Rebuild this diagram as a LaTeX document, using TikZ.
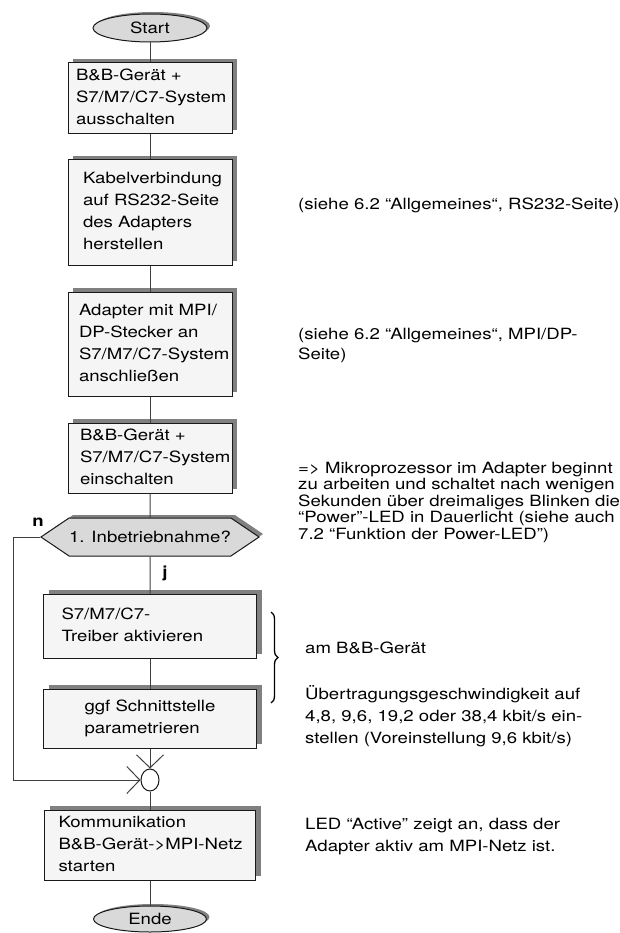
\documentclass[tikz,border=0pt]{standalone}
\usepackage{fontspec}
\setmainfont{TeX Gyre Heros}[FakeStretch=1.2]
\usetikzlibrary{shapes,shadows,positioning,arrows.meta,decorations.pathreplacing}

\begin{document}
\begin{tikzpicture}[x=1pt, y=-1pt,
    every node/.style={font=\fontsize{15.5}{22}\selectfont},
    stepbox/.style={draw=black!90, line width=1pt, fill=black!4, rectangle, align=left, inner ysep=0pt,
        drop shadow={shadow xshift=5pt, shadow yshift=4pt, fill=black!50, opacity=1}},
    terminal/.style={draw=black!90, line width=1pt, fill=black!15, ellipse, inner sep=0pt,
        drop shadow={shadow xshift=3pt, shadow yshift=2pt, fill=black!50, opacity=1}},
    decision/.style={draw=black!90, line width=1pt, fill=black!15, signal, signal to=east and west,
        signal pointer angle=68, inner sep=0pt,
        drop shadow={shadow xshift=4pt, shadow yshift=3pt, fill=black!50, opacity=1}},
    note/.style={anchor=west, align=left, inner sep=0pt},
    flow/.style={draw=black!75, line width=1pt},
    merge/.style={-{Straight Barb[length=13pt, width=27pt]}}
]
    \useasboundingbox (0,0) rectangle (619,933);

    % Nodes
    \node[terminal, minimum width=114pt, minimum height=28pt] (start) at (150,28) {Start};
    \node[stepbox, text width=148pt, inner xsep=8pt, minimum height=71pt] (off) at (150,98.5) {
        \begin{tabular}{@{}l@{}}
            B\&B-Gerät + \\
            S7/M7/C7-System \\
            ausschalten
        \end{tabular}
    };
    \node[stepbox, text width=134pt, inner xsep=15pt, minimum height=105pt] (cable) at (150,212.5) {
        \begin{tabular}{@{}l@{}}
            Kabelverbindung \\
            auf RS232-Seite \\
            des Adapters \\
            herstellen
        \end{tabular}
    };
    \node[stepbox, text width=142pt, inner xsep=11pt, minimum height=104pt] (plug) at (150,344) {
        \begin{tabular}{@{}l@{}}
            Adapter mit MPI/ \\
            DP-Stecker an \\
            S7/M7/C7-System \\
            anschließen
        \end{tabular}
    };
    \node[stepbox, text width=140pt, inner xsep=12pt, minimum height=70pt] (on) at (150,458) {
        \begin{tabular}{@{}l@{}}
            B\&B-Gerät + \\
            S7/M7/C7-System \\
            einschalten
        \end{tabular}
    };
    \node[decision, minimum width=212pt, minimum height=38pt] (first) at (150,537) {1. Inbetriebnahme?};
    \node[stepbox, text width=177pt, inner xsep=18pt, minimum height=64pt] (driver) at (150,626) {
        \begin{tabular}{@{}l@{}}
            S7/M7/C7- \\
            Treiber aktivieren
        \end{tabular}
    };
    \node[stepbox, text width=131pt, inner xsep=41pt, minimum height=59pt] (param) at (150,718.5) {
        \begin{tabular}{@{}l@{}}
            ggf Schnittstelle \\
            parametrieren
        \end{tabular}
    };
    \node[draw=black!90, line width=1pt, fill=white, ellipse, minimum width=18pt, minimum height=22pt,
        inner sep=0pt] (join) at (150,780) {};
    \node[stepbox, text width=183pt, inner xsep=14pt, minimum height=70pt] (comm) at (150,845) {
        \begin{tabular}{@{}l@{}}
            Kommunikation \\
            B\&B-Gerät->MPI-Netz \\
            starten
        \end{tabular}
    };
    \node[terminal, minimum width=113pt, minimum height=26pt] (end) at (150,919) {Ende};

    \node[font=\bfseries\fontsize{15.5}{16}\selectfont, inner sep=0pt] (lbln) at (38,522) {n};
    \node[font=\bfseries\fontsize{15.5}{16}\selectfont, inner sep=0pt] (lblj) at (165,573) {j};
    \coordinate (loop) at (13,537);

    % Connections
    \draw[flow] (start) -- (off);
    \draw[flow] (off) -- (cable);
    \draw[flow] (cable) -- (plug);
    \draw[flow] (plug) -- (on);
    \draw[flow] (on) -- (first);
    \draw[flow] (first) -- (driver);
    \draw[flow] (driver) -- (param);
    \draw[flow, merge] (param) -- (join);
    \draw[flow, merge] (first.west) -- (loop) |- (join);
    \draw[flow] (join) -- (comm);
    \draw[flow] (comm) -- (end);

    % Notes
    \node[note] (rsnote) at (298,205) {(siehe 6.2 “Allgemeines“, RS232-Seite)};
    \node[note, font=\fontsize{15.5}{20}\selectfont] (mpinote) at (298,345)
        {(siehe 6.2 “Allgemeines“, MPI/DP-\\Seite)};
    \node[note, font=\fontsize{15.5}{16.5}\selectfont] (cpunote) at (298,502)
        {=> Mikroprozessor im Adapter beginnt\\zu arbeiten und schaltet nach wenigen\\Sekunden über dreimaliges Blinken die\\“Power”-LED in Dauerlicht (siehe auch\\7.2 “Funktion der Power-LED”)};
    \coordinate (bracetop) at (271,612);
    \coordinate (bracebot) at (271,703);
    \draw[decorate, decoration={brace, amplitude=7pt}, line width=1.3pt] (bracetop) -- (bracebot);
    \node[note] (devnote) at (305,648) {am B\&B-Gerät};
    \node[note] (ratenote) at (305,716)
        {Übertragungsgeschwindigkeit auf\\4,8, 9,6, 19,2 oder 38,4 kbit/s ein-\\stellen (Voreinstellung 9,6 kbit/s)};
    \node[note] (lednote) at (305,837) {LED “Active” zeigt an, dass der\\Adapter aktiv am MPI-Netz ist.};
\end{tikzpicture}
\end{document}
